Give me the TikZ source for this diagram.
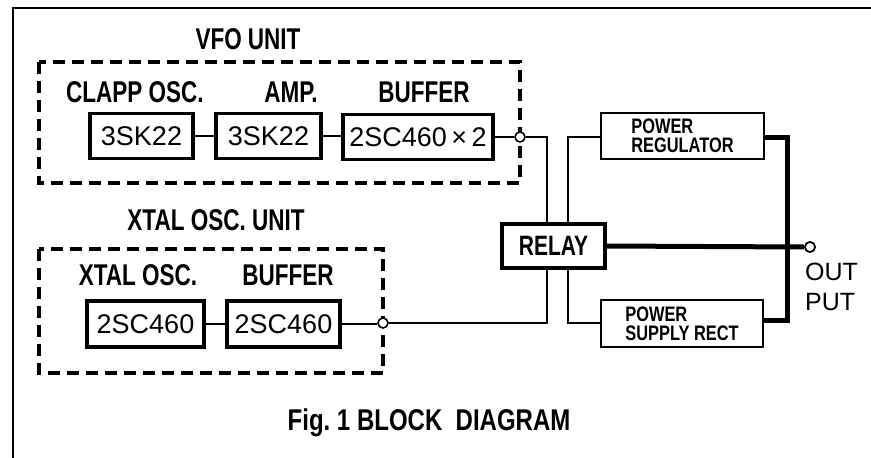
\documentclass[tikz,border=0pt]{standalone}
\usepackage{fontspec}
\setmainfont{Liberation Sans}
\newfontfamily\condfont[FakeStretch=0.75]{Liberation Sans}
\newfontfamily\smallcond[FakeStretch=0.78]{Liberation Sans}
\newfontfamily\titlefont[FakeStretch=0.8]{Liberation Sans}
\begin{document}
\begin{tikzpicture}[x=1pt,y=-1pt,
  blk/.style={draw, line width=3.6pt, rectangle, inner sep=0pt, font=\fontsize{27}{30}\selectfont},
  pblk/.style={draw, line width=2.6pt, rectangle, inner sep=0pt, align=left, font=\smallcond\bfseries\fontsize{21}{19}\selectfont},
  lbl/.style={inner sep=0pt, font=\condfont\bfseries\fontsize{30}{32}\selectfont},
  unitbox/.style={draw, line width=3.2pt, dash pattern=on 12pt off 7pt},
  wire/.style={line width=1.6pt},
  thick wire/.style={line width=5pt},
  term/.style={circle, draw, fill=white, line width=1.6pt, inner sep=0pt, minimum size=10pt}]
\useasboundingbox (0,0) rectangle (871,458);
% outer frame
\draw[line width=2.4pt] (13,458) -- (13,8) -- (871,8);
% unit boxes
\draw[unitbox] (39,62) rectangle (520,183);
\draw[unitbox] (39,249) rectangle (383,373);
% labels
\node[lbl] (vfo) at (248,39) {VFO UNIT};
\node[lbl] (clapp) at (135,92) {CLAPP OSC.};
\node[lbl] (amp) at (291,92) {AMP.};
\node[lbl] (buf1) at (424,92) {BUFFER};
\node[lbl] (xtalu) at (216,220) {XTAL OSC. UNIT};
\node[lbl] (xtal) at (138,275) {XTAL OSC.};
\node[lbl] (buf2) at (288,275) {BUFFER};
\node[lbl, font=\titlefont\bfseries\fontsize{30}{32}\selectfont] (title) at (429,423) {Fig.~1 BLOCK\ \ DIAGRAM};
% blocks
\node[blk, minimum width=103pt, minimum height=45pt] (v1) at (141.5,136) {3SK22};
\node[blk, minimum width=105pt, minimum height=45pt] (v2) at (268.5,136) {3SK22};
\node[blk, minimum width=150pt, minimum height=45pt] (v3) at (418,137) {2SC460\,×\,2};
\node[blk, minimum width=117pt, minimum height=46pt] (x1) at (145.5,324) {2SC460};
\node[blk, minimum width=113pt, minimum height=46pt] (x2) at (283.5,324) {2SC460};
\node[blk, minimum width=103pt, minimum height=44pt, font=\condfont\bfseries\fontsize{28}{30}\selectfont] (relay) at (553.5,246) {RELAY};
\node[pblk, minimum width=163pt, minimum height=46pt] (preg) at (682.5,136) {POWER\\REGULATOR};
\node[pblk, minimum width=162pt, minimum height=47pt] (psup) at (682,323.5) {POWER\\SUPPLY RECT};
% terminals
\node[term] (t1) at (520,137) {};
\node[term] (t2) at (383,323) {};
\node[term] (tout) at (810,247) {};
\node[anchor=west, inner sep=0pt, align=left, font=\fontsize{25}{30}\selectfont] (outl) at (805,287) {OUT\\PUT};
% junction coordinates
\coordinate (ja) at (547,137);
\coordinate (jb) at (547,323);
\coordinate (jc) at (568,137);
\coordinate (jd) at (568,323);
\coordinate (je) at (787,137);
\coordinate (jf) at (787,320);
% wires
\draw[wire] (v1.east) -- (v2.west);
\draw[wire] (v2.east) -- (v3.west|-v2.east);
\draw[wire] (v3.east) -- (t1);
\draw[wire] (x1.east) -- (x2.west);
\draw[wire] (x2.east) -- (t2.west|-x2.east);
\draw[wire] (t1.east) -- (ja) -- (ja|-relay.north);
\draw[wire] (t2.east) -- (jb) -- (jb|-relay.south);
\draw[wire] (jc|-relay.north) -- (jc) -- (preg.west|-jc);
\draw[wire] (jd|-relay.south) -- (jd) -- (psup.west|-jd);
% heavy output wires
\draw[thick wire] (preg.east|-je) -- (je) -- (jf) -- (psup.east|-jf);
\draw[thick wire] (relay.east) -- (tout.west);
\node[term] at (tout) {};
\end{tikzpicture}
\end{document}
